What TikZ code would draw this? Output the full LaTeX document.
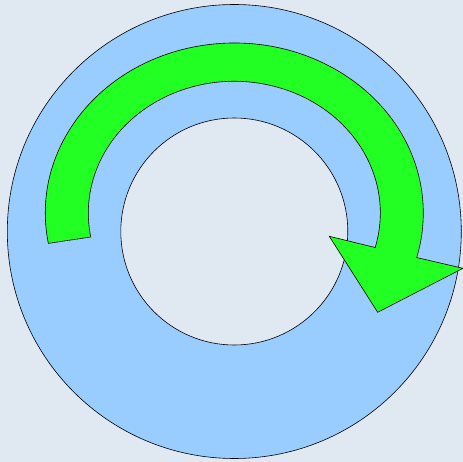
\documentclass[tikz,border=0pt]{standalone}
\usepackage{xcolor}
\usepackage{tikz}
\usetikzlibrary{calc}
\definecolor{pagegray}{HTML}{E0E8F2}
\definecolor{ringblue}{HTML}{99CCFF}
\definecolor{arrowgreen}{HTML}{22FF22}
\tikzset{outline/.style={draw=black,line width=0.6pt}}
\begin{document}
\begin{tikzpicture}[x=1pt,y=-1pt]
% Picture is 463 x 462 px; 1 px = 1 pt, y grows downwards.
% Ring centre (234.3,231.5): outer r=227, hole r=113.5
% Arrow ellipse centre (234.3,213): outer 189/170, inner 146/131.7

% ── Page background ─────────────────────────────────────────────
\fill[pagegray] (0,0) rectangle (463,462);
\useasboundingbox (0,0) rectangle (463,462);

% ── Ring ────────────────────────────────────────────────────────
\coordinate (ringc) at (234.3,231.5);
\fill[ringblue,outline] (ringc) circle[radius=227];
\fill[pagegray,outline] (ringc) circle[radius=113.5];

% ── Curved arrow (tail on the left, head on the right) ──────────
\coordinate (arcc) at (234.3,213);
\fill[arrowgreen,outline]
 ($(arcc)+(169.7:189 and 170)$)
 arc[start angle=169.7,end angle=375.2,x radius=189,y radius=170]
 -- (463.0,268.3) % right wing
 -- (377.7,312.3) % tip
 -- (329.3,236.3) % left wing
 -- ($(arcc)+(375.2:146 and 131.7)$)
 arc[start angle=375.2,end angle=169.5,x radius=146,y radius=131.7]
 -- cycle;
\end{tikzpicture}
\end{document}
